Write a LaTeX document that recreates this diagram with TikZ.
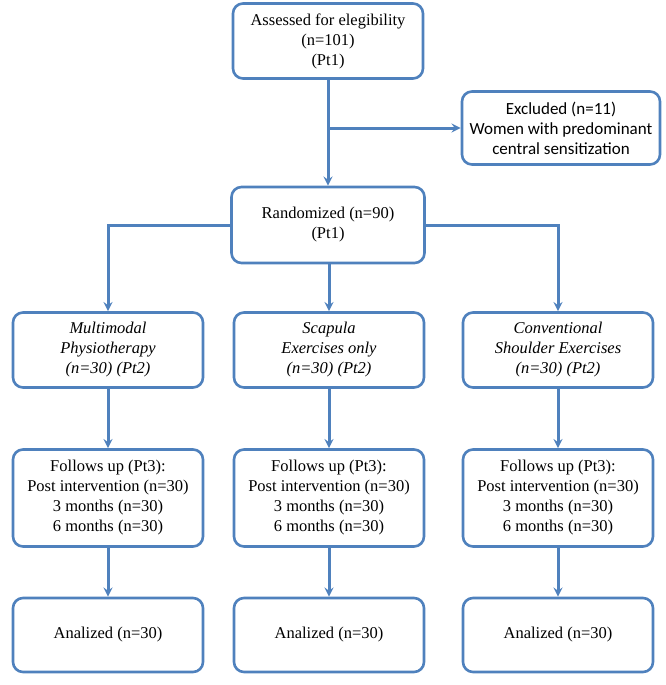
\documentclass[tikz,border=0pt]{standalone}
\usepackage{fontspec}
\setmainfont{Liberation Serif}
\newfontfamily\exclfont{Carlito}
\usetikzlibrary{arrows}
\definecolor{flowblue}{RGB}{79,129,189}
\tikzstyle{box} = [draw=flowblue, line width=2.6pt, rounded corners=10pt, fill=white, align=center, minimum width=190pt, inner sep=2pt, font=\fontsize{16.5}{20}\selectfont]
\tikzstyle{arrow} = [line width=3pt, draw=flowblue, ->, >=stealth]

\begin{document}
\begin{tikzpicture}[x=1pt, y=-1pt]
            \useasboundingbox (0,0) rectangle (665,685);

            % Enrolment
            \node[box, minimum height=75pt] (elig) at (328, 41) {Assessed for elegibility\\(n=101)\\(Pt1)};
            \node[box, minimum width=198pt, minimum height=73pt, font=\exclfont\fontsize{17}{20}\selectfont] (excl) at (561, 128) {Excluded (n=11)\\Women with predominant\\central sensitization};
            \node[box, minimum width=193pt, minimum height=76pt] (rand) at (328, 225) {Randomized (n=90)\\(Pt1)};
            \coordinate (split) at (elig.south |- excl.west);

            % Allocation
            \node[box, minimum height=75pt, font=\itshape\fontsize{16.5}{20}\selectfont] (multi) at (108, 350) {Multimodal\\Physiotherapy\\(n=30) (Pt2)};
            \node[box, minimum height=75pt, font=\itshape\fontsize{16.5}{20}\selectfont] (scap) at (329, 350) {Scapula\\Exercises only\\(n=30) (Pt2)};
            \node[box, minimum height=75pt, font=\itshape\fontsize{16.5}{20}\selectfont] (conv) at (558, 350) {Conventional\\Shoulder Exercises\\(n=30) (Pt2)};

            % Follow up
            \node[box, minimum height=97pt] (follow1) at (108, 498) {Follows up (Pt3):\\Post intervention (n=30)\\3 months (n=30)\\6 months (n=30)};
            \node[box, minimum height=97pt] (follow2) at (329, 498) {Follows up (Pt3):\\Post intervention (n=30)\\3 months (n=30)\\6 months (n=30)};
            \node[box, minimum height=97pt] (follow3) at (558, 498) {Follows up (Pt3):\\Post intervention (n=30)\\3 months (n=30)\\6 months (n=30)};

            % Analysis
            \node[box, minimum height=74pt] (anal1) at (108, 635) {Analized (n=30)};
            \node[box, minimum height=74pt] (anal2) at (329, 635) {Analized (n=30)};
            \node[box, minimum height=74pt] (anal3) at (558, 635) {Analized (n=30)};

            % Draw arrows between the nodes
            \draw[arrow] (elig) -- (rand);
            \draw[arrow] (split) -- (excl);
            \draw[arrow] (rand.west) -| (multi.north);
            \draw[arrow] (rand.south -| scap.north) -- (scap.north);
            \draw[arrow] (rand.east) -| (conv.north);
            \draw[arrow] (multi) -- (follow1);
            \draw[arrow] (scap) -- (follow2);
            \draw[arrow] (conv) -- (follow3);
            \draw[arrow] (follow1) -- (anal1);
            \draw[arrow] (follow2) -- (anal2);
            \draw[arrow] (follow3) -- (anal3);
        \end{tikzpicture}
\end{document}
